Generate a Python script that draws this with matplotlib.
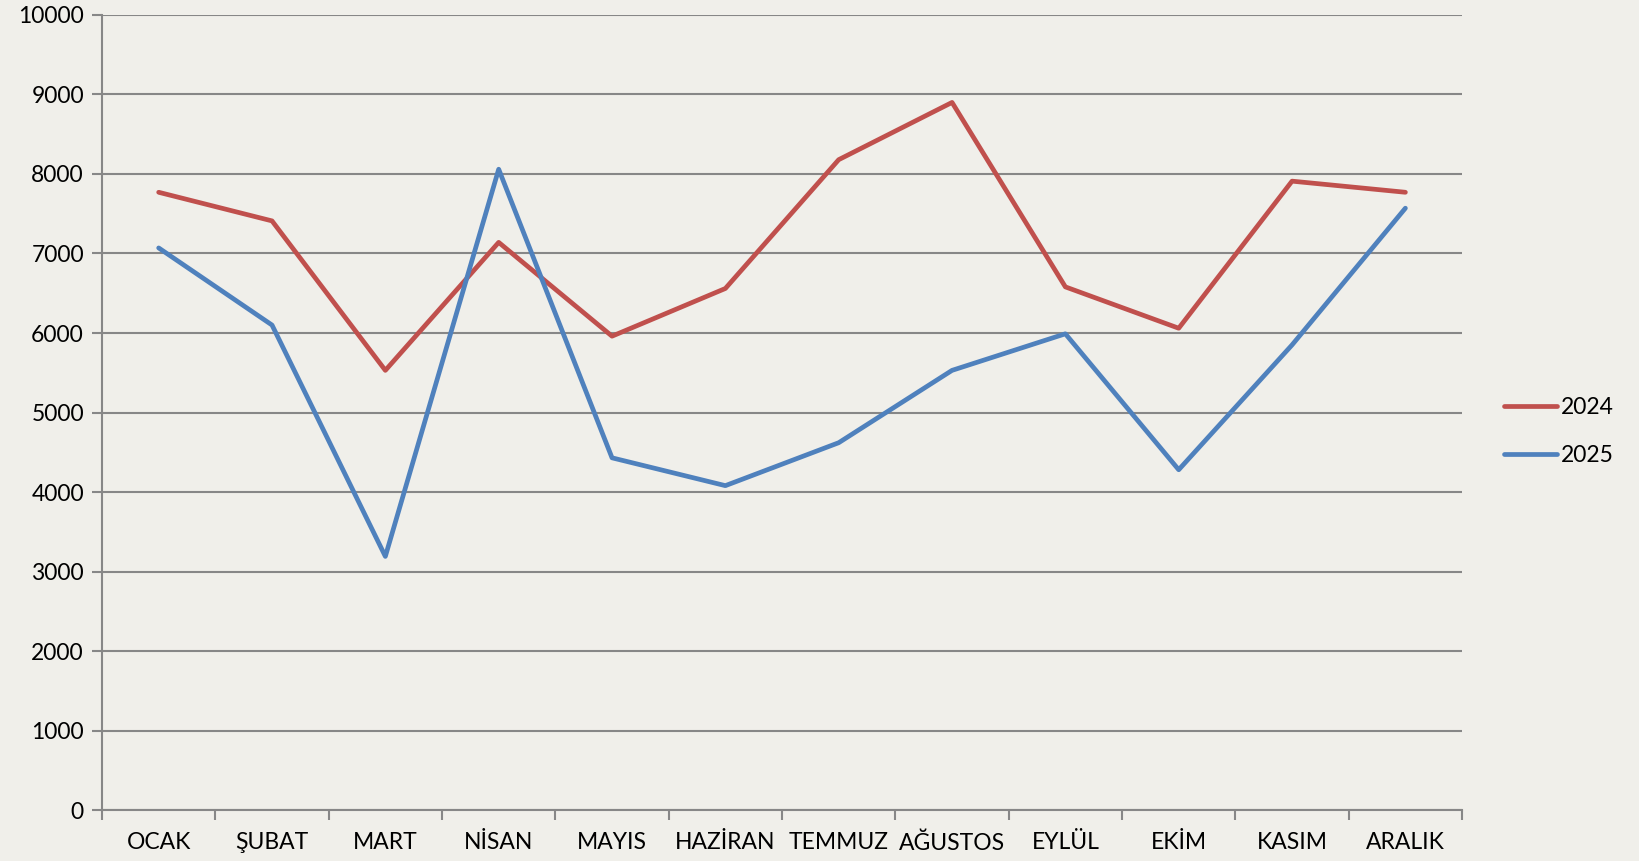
import matplotlib.pyplot as plt
import numpy as np

months = ["OCAK", "ŞUBAT", "MART", "NİSAN", "MAYIS", "HAZİRAN",
          "TEMMUZ", "AĞUSTOS", "EYLÜL", "EKİM", "KASIM", "ARALIK"]
y2024 = [7770, 7410, 5530, 7140, 5960, 6560, 8180, 8900, 6580, 6060, 7910, 7770]
y2025 = [7070, 6100, 3190, 8060, 4430, 4080, 4620, 5530, 5990, 4280, 5850, 7570]

bg = "#F0EFEA"
grid_col = "#878787"

plt.rcParams['font.family'] = ['Lato', 'DejaVu Sans']

fig = plt.figure(figsize=(16.4, 8.61), dpi=100, facecolor=bg)
ax = fig.add_axes([0.0622, 0.0592, 0.8293, 0.9234], facecolor=bg)

x = np.arange(len(months))
ax.plot(x, y2024, color="#C0504D", lw=3.4, label="2024", solid_capstyle="round", zorder=3)
ax.plot(x, y2025, color="#4F81BD", lw=3.4, label="2025", solid_capstyle="round", zorder=3)

ax.set_xlim(-0.5, len(months) - 0.5)
ax.set_ylim(0, 10000)
ax.set_yticks(np.arange(0, 10001, 1000))
ax.set_xticks(x)
ax.set_xticklabels(months)
ax.set_xticks(np.arange(-0.5, len(months), 1), minor=True)

ax.yaxis.grid(True, color=grid_col, lw=1.5)
ax.set_axisbelow(True)
for s in ["top", "right"]:
    ax.spines[s].set_visible(False)
for s in ["left", "bottom"]:
    ax.spines[s].set_color(grid_col)
    ax.spines[s].set_linewidth(1.5)

ax.tick_params(axis="x", which="major", length=0, pad=16, labelsize=16.5)
ax.tick_params(axis="x", which="minor", length=7, width=1.5, color=grid_col)
ax.tick_params(axis="y", length=7, width=1.5, color=grid_col, labelsize=16.5, pad=6)

leg = ax.legend(loc="center left", bbox_to_anchor=(1.024, 0.476), frameon=False,
                fontsize=16.5, handlelength=2.3, handletextpad=0.2, labelspacing=1.15,
                borderaxespad=0.0)

fig.savefig("out.png", dpi=100, facecolor=bg)
